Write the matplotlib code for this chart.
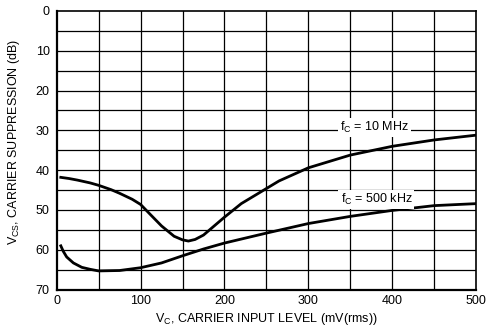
import matplotlib
matplotlib.use('Agg')
import matplotlib.pyplot as plt
from matplotlib import font_manager

names = {f.name for f in font_manager.fontManager.ttflist}
narrow = 'Liberation Sans Narrow' if 'Liberation Sans Narrow' in names else 'Liberation Sans'
plt.rcParams['font.family'] = [narrow, 'DejaVu Sans']
plt.rcParams['mathtext.fontset'] = 'custom'
plt.rcParams['mathtext.rm'] = narrow

#%% Curve data (mV rms vs dB)
mv_10mhz = [5, 15, 25, 40, 50, 65, 75, 90, 100, 112, 125, 140, 150, 157, 165, 175, 185, 200, 220, 250, 265, 300, 350, 400, 450, 500]
db_10mhz = [41.8, 42.1, 42.5, 43.2, 43.8, 44.9, 45.8, 47.3, 48.6, 51.2, 54.0, 56.6, 57.5, 57.8, 57.4, 56.3, 54.5, 51.8, 48.4, 44.6, 42.7, 39.4, 36.2, 34.0, 32.4, 31.2]

mv_500khz = [5, 8, 12, 20, 30, 40, 50, 75, 100, 125, 150, 175, 200, 250, 300, 350, 400, 450, 500]
db_500khz = [59.0, 60.4, 61.8, 63.3, 64.4, 64.9, 65.3, 65.2, 64.5, 63.3, 61.5, 59.8, 58.3, 55.8, 53.4, 51.6, 50.1, 48.9, 48.4]

x_ticks = [0, 100, 200, 300, 400, 500]
y_ticks = [0, 10, 20, 30, 40, 50, 60, 70]

#%% Plot
fig = plt.figure(figsize=(4.88, 3.31), dpi=100)
ax = fig.add_axes([0.116, 0.125, 0.86, 0.842])

# grid every 50 mV / 5 dB
for gx in range(50, 500, 50):
    ax.axvline(gx, color='black', lw=0.9, zorder=1)
for gy in range(5, 70, 5):
    ax.axhline(gy, color='black', lw=0.9, zorder=1)

ax.plot(mv_10mhz, db_10mhz, color='black', lw=2.0, zorder=3, solid_joinstyle='round')
ax.plot(mv_500khz, db_500khz, color='black', lw=2.0, zorder=3, solid_joinstyle='round')

ax.text(379, 29.2, r'f$_\mathregular{C}$ = 10 MHz', fontsize=9, ha='center', va='center',
        bbox=dict(facecolor='white', edgecolor='none', pad=1.5), zorder=4)
ax.text(381, 47.4, r'f$_\mathregular{C}$ = 500 kHz', fontsize=9, ha='center', va='center',
        bbox=dict(facecolor='white', edgecolor='none', pad=1.5), zorder=4)

ax.set_xlim(0, 500)
ax.set_ylim(70, 0)
ax.set_xticks(x_ticks)
ax.set_yticks(y_ticks)
ax.tick_params(length=0, labelsize=9, pad=5)
ax.tick_params(axis='x', pad=4)
for sp in ax.spines.values():
    sp.set_linewidth(1.2)
ax.spines['left'].set_linewidth(1.6)
ax.spines['bottom'].set_linewidth(1.6)

ax.set_ylabel(r'V$_\mathregular{CS}$, CARRIER SUPPRESSION (dB)', fontsize=9)
ax.yaxis.set_label_coords(-0.082, 0.53)
ax.set_xlabel(r'V$_\mathregular{C}$, CARRIER INPUT LEVEL (mV(rms))', fontsize=9, labelpad=3)

plt.savefig('out.png', dpi=100)
